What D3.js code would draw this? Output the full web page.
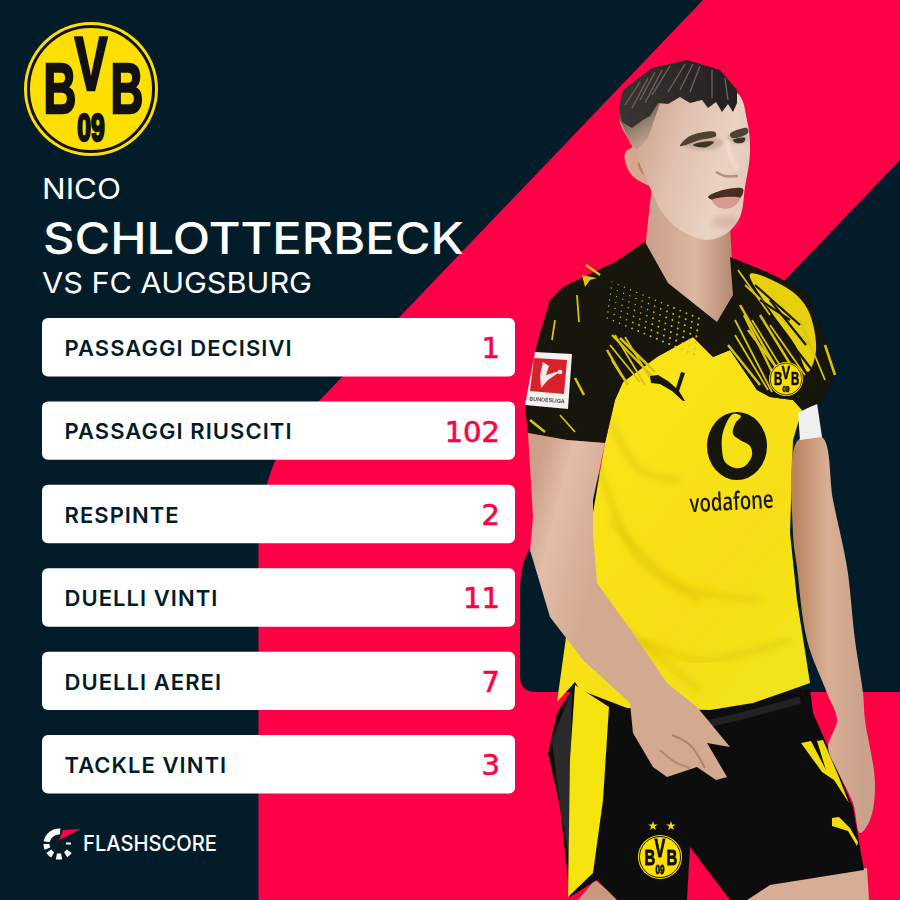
<!DOCTYPE html>
<html><head><meta charset="utf-8">
<script src="https://cdn.jsdelivr.net/npm/d3@7/dist/d3.min.js"></script>
<style>html,body{margin:0;padding:0;background:#031c29}svg{display:block}</style>
</head><body><div id="c"></div>
<script>
const categories=["PASSAGGI DECISIVI","PASSAGGI RIUSCITI","RESPINTE","DUELLI VINTI","DUELLI AEREI","TACKLE VINTI"];
const values=[1,102,2,11,7,3];
const titleLines=["NICO","SCHLOTTERBECK","VS FC AUGSBURG"];
const brand="FLASHSCORE";
const DARK="#031c29",RED="#ff0046",YEL="#f7e214",BLK="#14130f";
const svg=d3.select("#c").append("svg").attr("width",900).attr("height",900).attr("viewBox","0 0 900 900");
const defs=svg.append("defs");
defs.append("filter").attr("id","soft").append("feGaussianBlur").attr("stdDeviation",.6);
defs.append("filter").attr("id","blur2").append("feGaussianBlur").attr("stdDeviation",1.6);
defs.append("filter").attr("id","blur3").append("feGaussianBlur").attr("stdDeviation",3);
function lg(id,x1,y1,x2,y2,stops){const g=defs.append("linearGradient").attr("id",id).attr("gradientUnits","userSpaceOnUse").attr("x1",x1).attr("y1",y1).attr("x2",x2).attr("y2",y2);
 stops.forEach(s=>g.append("stop").attr("offset",s[0]).attr("stop-color",s[1]));}
lg("armL",530,500,610,520,[[0,"#cda08a"],[.35,"#e2bda8"],[1,"#d3a990"]]);
lg("armR",795,560,860,560,[[0,"#b98560"],[.5,"#d9ae94"],[1,"#cba38c"]]);
lg("face",640,130,750,160,[[0,"#cfa893"],[.35,"#e0c0ae"],[.8,"#ead2c4"],[1,"#e6cbbb"]]);
lg("neck",645,250,730,250,[[0,"#c99f88"],[.6,"#dcb7a2"],[1,"#b88c74"]]);
lg("fade",625,100,655,150,[[0,"#3e3733"],[.55,"#9c8475"],[1,"#d6b39e"]]);
lg("jer",570,450,820,650,[[0,"#f9e518"],[.6,"#f6df12"],[1,"#f1e41e"]]);
lg("hair",620,100,730,70,[[0,"#3a3431"],[1,"#23201f"]]);

const smooth=d3.line().curve(d3.curveCatmullRomClosed.alpha(.5));
const sharp=d3.line().curve(d3.curveLinearClosed);
const open=d3.line().curve(d3.curveCatmullRom.alpha(.5));

// background
svg.append("rect").attr("width",900).attr("height",900).attr("fill",DARK);
svg.append("path").attr("fill",RED).attr("d","M703,0 L900,0 L900,900 L258.5,900 L258.5,545 C259,510 266,470 290,432 L320,400 Z");
svg.append("path").attr("fill",DARK).attr("d","M900,160 L535,541 C525,553 520,570 520,590 L520,676 Q520,692 536,692 L900,692 Z");

// crest helper: one text element holding all four glyph groups
function crest(g,cx,cy,r){
 const n=g.append("g").attr("transform",`translate(${cx},${cy}) scale(${r/67})`);
 n.append("circle").attr("r",67).attr("fill","#fde000");
 n.append("circle").attr("r",62.5).attr("fill","none").attr("stroke","#111").attr("stroke-width",3);
 const sx=.65;
 const t=n.append("text").attr("transform",`scale(${sx},1)`).attr("text-anchor","middle")
   .attr("font-family","'Liberation Sans',sans-serif").attr("font-weight",700).attr("fill","#111").attr("stroke","#111").attr("stroke-width",2.5);
 [["B",-31,24,70],["V",0,1,76],["B",36,24,70],["09",0,52,38]].forEach(d=>{
  t.append("tspan").text(d[0]).attr("x",d[1]/sx).attr("y",d[2]).attr("font-size",d[3]);
 });
}
crest(svg.append("g"),91,89,67);

// headline
const tf="Inter,'DejaVu Sans',sans-serif";
const titleSpec=[[42,199,29,79,400],[43,254,44,421,500],[42,293,29,270,400]];
svg.append("g").selectAll("text").data(titleLines).join("text").text(d=>d)
 .attr("x",(d,i)=>titleSpec[i][0]).attr("y",(d,i)=>titleSpec[i][1]).attr("font-size",(d,i)=>titleSpec[i][2])
 .attr("textLength",(d,i)=>titleSpec[i][3]).attr("lengthAdjust","spacingAndGlyphs")
 .attr("font-weight",(d,i)=>titleSpec[i][4]).attr("font-family",tf).attr("fill","#fff");

// player
const P=svg.append("g").attr("filter","url(#soft)");
const area=(pts,fill,gen=smooth,par=P)=>par.append("path").attr("d",gen(pts)).attr("fill",fill);
const stroke=(pts,col,w,op=1)=>P.append("path").attr("d",open(pts)).attr("fill","none").attr("stroke",col).attr("stroke-width",w).attr("opacity",op);
// legs
area([[747,900],[777,880],[867,868],[869,900]],"#d7ad96",sharp);
area([[578,900],[595,880],[620,900]],"#c9987f",sharp);
// shorts
area([[575,685],[557,713],[548,753],[560,807],[570,897],[597,880],[617,900],[687,900],[690,847],[730,900],[747,900],[770,885],[864,870],[853,807],[828,747],[813,713],[810,688],[700,700]],"#111",sharp);
area([[552,740],[572,690],[570,800],[569,860],[558,790]],"#2a2a2a",sharp);
area([[575,685],[570,760],[568,897],[593,873],[603,800],[609,707]],"#f5e40f",sharp);
stroke([[640,730],[700,725],[800,700]],"#2c2c2c",7,.7);
// shorts details
area([[801,743],[811,741],[826,770],[817,741],[823,740],[838,775],[849,803],[834,780],[822,772]],"#f3dc0c",sharp);
area([[832,818],[839,817],[850,828],[858,842],[857,846],[848,831],[832,826]],"#f3dc0c",sharp);
d3.range(2).forEach(i=>{const s=d3.symbol().type(d3.symbolStar).size(28)();P.append("path").attr("d",s).attr("fill","#f3dc0c").attr("transform",`translate(${653+i*18},826)`);});
crest(P.append("g"),660,857,22);
// body
area([[615,400],[623,382],[657,357],[693,337],[713,357],[730,350],[757,390],[770,397],[793,400],[802,410],[793,440],[790,533],[797,600],[810,683],[753,703],[710,710],[627,708],[580,690],[575,682],[557,702],[567,630],[590,590],[590,530],[605,443]],"url(#jer)",sharp);
// jersey folds
[[[600,470],[640,560],[700,600]],[[610,520],[680,585],[760,600]],[[640,640],[700,660],[790,640]],[[600,610],[650,650],[700,690]],[[610,420],[640,470],[680,480]]].forEach(l=>P.append("path").attr("d",open(l)).attr("fill","none").attr("stroke","#cdb208").attr("stroke-width",5).attr("opacity",.4).attr("filter","url(#blur3)"));
// right arm
area([[798,440],[822,437],[833,500],[847,567],[855,640],[863,693],[865,720],[875,783],[870,820],[860,833],[853,803],[837,770],[828,747],[837,720],[827,693],[807,640],[797,567],[793,533]],"url(#armR)");
// armband
area([[798,413],[817,403],[822,437],[800,440]],"#f0f0ee",sharp);
// neck
area([[652,185],[646,240],[645,262],[668,292],[717,332],[736,300],[732,262],[730,225]],"url(#neck)",sharp);
// yoke with collar opening
area([[645,242],[615,262],[563,287],[550,300],[537,343],[525,407],[528,433],[567,440],[605,443],[615,400],[623,382],[657,357],[693,337],[713,357],[730,350],[757,390],[770,397],[793,400],[802,410],[820,403],[837,373],[823,333],[807,292],[767,272],[730,257],[733,295],[717,322],[668,283]],BLK,sharp);
// yellow streaks on right yoke
area([[750,274],[790,290],[808,310],[816,350],[808,372],[795,345],[770,310]],"#e7d10f");
const streaks=[[[738,270],[770,315]],[[740,305],[790,392]],[[735,320],[772,392]],[[728,345],[760,385]],[[745,285],[810,345]],[[748,330],[795,392]],[[800,320],[825,380]],[[825,345],[835,375]],
 [[735,335],[768,390]],[[744,315],[782,392]],[[752,320],[792,385]],[[760,315],[800,380]],[[770,325],[805,375]],
 [[612,335],[652,376]],[[610,345],[640,382]],[[612,360],[628,385]],[[615,335],[645,385]],[[620,338],[655,372]],[[625,337],[650,378]],[[607,350],[622,376]],
 [[577,295],[579,322]],[[575,378],[584,395]],[[555,320],[552,340]],[[586,265],[600,275]],[[560,415],[575,432]],[[530,420],[545,432]]];
P.append("g").selectAll("path").data(streaks).join("path").attr("d",d=>d3.line()(d)).attr("stroke","#d9c40f").attr("stroke-width",(d,i)=>i%2?2.5:1.8).attr("fill","none");
// dark cuts across the yellow shoulder
[[[755,285],[800,325]],[[770,300],[806,345]],[[785,335],[812,370]],[[760,300],[790,320]]].forEach(l=>P.append("path").attr("d",d3.line()(l)).attr("stroke",BLK).attr("stroke-width",2.2));
// shoulder puma
P.append("path").attr("d","M582,275 L597,278 L590,280 L585,287 Z").attr("fill","#e4c810");
// dot band on chest yoke
const dotRows=d3.range(7),dotCols=d3.range(15);
P.append("g").selectAll("circle").data(dotRows.flatMap(r=>dotCols.map(c=>[r,c]))).join("circle")
 .attr("cx",d=>612+d[1]*6.2-d[0]*.8).attr("cy",d=>282+d[0]*6+d[1]*2.6).attr("r",d=>.6+(d[0]+d[1])/36).attr("fill","#d8c20c");
// bundesliga patch
area([[535,352],[572,354],[568,409],[525,405]],"#f4f1ee",sharp);
area([[534,358],[567,360],[564,394],[530,391]],"#d6202a",sharp);
P.append("path").attr("d","M543,362 L549,366 L546,375 L556,372 L561,371 L548,380 L541,388 L540,375 Z").attr("fill","#f3e9e6");
P.append("circle").attr("cx",560).attr("cy",372).attr("r",2.3).attr("fill","#f3e9e6");
P.append("text").text("BUNDESLIGA").attr("x",547).attr("y",402).attr("text-anchor","middle").attr("font-size",5.5).attr("font-family","Inter").attr("font-weight",700).attr("fill","#555").attr("transform","rotate(4 547 402)");
// puma
area([[650,376],[658,375],[668,381],[676,388],[681,372],[685,373],[679,391],[685,401],[683,401],[672,391],[660,384],[651,383]],"#15130f",sharp);
// jersey crest
crest(P.append("g"),786,379,17);
// vodafone
P.append("ellipse").attr("cx",737).attr("cy",446).attr("rx",30).attr("ry",34).attr("fill","#17150f");
area([[733,414],[741,416],[735,424],[733,434],[740,440],[750,446],[752,455],[745,466],[735,468],[725,462],[722,450],[723,432]],"#f6e012");
P.append("text").text("vodafone").attr("x",732).attr("y",510).attr("text-anchor","middle").attr("font-size",25).attr("font-family","'Open Sans',sans-serif").attr("font-weight",600)
 .attr("textLength",84).attr("lengthAdjust","spacingAndGlyphs").attr("fill","#1a170c").attr("transform","rotate(-3 732 510)");
// left arm and hand
area([[528,433],[567,440],[605,443],[593,500],[593,533],[597,583],[633,633],[667,683],[697,707],[730,747],[707,743],[727,777],[716,780],[697,767],[667,777],[653,767],[633,733],[630,703],[583,660],[550,617],[530,550],[533,517]],"url(#armL)",sharp);
stroke([[672,735],[690,745],[705,768]],"#a97a62",2,.8);
stroke([[660,750],[675,762],[690,768]],"#a97a62",2,.7);
// head
area([[625,153],[637,147],[648,167],[658,187],[643,183],[630,173]],"#d9a58c");
area([[650,160],[655,175],[647,178],[638,163]],"#b67f68");
area([[620,118],[632,146],[652,192],[662,212],[680,230],[707,240],[727,233],[740,217],[745,187],[750,153],[747,120],[737,93],[680,90],[640,100]],"url(#face)",smooth);
area([[619,107],[620,120],[630,143],[637,150],[648,138],[660,103],[640,100]],"url(#fade)",sharp);
// hair
area([[619,107],[623,90],[652,68],[687,60],[720,70],[737,90],[737,103],[733,112],[728,104],[722,112],[716,102],[708,108],[702,100],[690,103],[680,97],[668,104],[658,103],[650,116],[643,120],[632,128],[622,122]],"url(#hair)",sharp);
P.append("g").selectAll("path").data([[[640,82],[625,105]],[[655,72],[640,100]],[[670,66],[652,95]],[[685,64],[668,92]],[[700,66],[690,92]],[[712,70],[712,98]],[[725,78],[728,100]],[[648,78],[632,108]],[[693,64],[680,90]],[[662,70],[645,103]]])
 .join("path").attr("d",d=>d3.line()(d)).attr("stroke","#6d6560").attr("stroke-width",1.3).attr("fill","none");
// face details
P.append("ellipse").attr("cx",703).attr("cy",143).attr("rx",20).attr("ry",7).attr("fill","#8f705c").attr("opacity",.3).attr("filter","url(#blur2)");
P.append("ellipse").attr("cx",738).attr("cy",138).attr("rx",11).attr("ry",6).attr("fill","#8f705c").attr("opacity",.3).attr("filter","url(#blur2)");
area([[680,146],[690,136],[715,132],[716,136],[700,140]],"#4f4233");
area([[730,134],[747,128],[748,133],[732,138]],"#4f4233");
area([[693,145],[702,142],[714,142],[707,147],[698,147]],"#3c3029");
area([[733,140],[745,138],[744,142],[736,143]],"#3c3029");
stroke([[727,140],[732,160],[738,170]],"#f2dfd3",5,.55);
stroke([[716,172],[725,176],[738,176]],"#a8806b",2.5,.8);
area([[708,197],[723,190],[743,189],[740,198],[713,200]],"#4e2a27");
area([[712,200],[740,198],[733,207],[720,208]],"#d79a8d");
P.append("ellipse").attr("cx",725).attr("cy",222).attr("rx",14).attr("ry",6).attr("fill","#b98e78").attr("opacity",.35).attr("filter","url(#blur3)");

// stat rows
const y=d3.scaleBand().domain(categories).range([318,793.5]).paddingInner(0.3).paddingOuter(0);
const row=svg.append("g").selectAll("g").data(categories).join("g").attr("transform",d=>`translate(0,${y(d)})`);
row.append("rect").attr("x",42).attr("width",473).attr("height",y.bandwidth()).attr("rx",6).attr("fill","#fff");
row.append("text").text(d=>d).attr("x",64.5).attr("y",y.bandwidth()/2+8.8).attr("font-family","Inter,sans-serif").attr("font-weight",600)
 .attr("font-size",22).attr("letter-spacing",1.05).attr("fill",DARK);
row.append("text").text((d,i)=>values[i]).attr("x",500).attr("y",y.bandwidth()/2+11).attr("text-anchor","end")
 .attr("font-family","'DejaVu Sans',sans-serif").attr("font-size",29).attr("fill",RED).attr("stroke",RED).attr("stroke-width",.6);

// brand
const B=svg.append("g").attr("transform","translate(59,844)");
const arc=d3.arc().innerRadius(9.5).outerRadius(15.5);
const rad=Math.PI/180;
B.selectAll("path.s").data([[-80,5],[-112,-90],[-150,-125],[-192,-168],[125,148]]).join("path")
 .attr("d",d=>arc({startAngle:d[0]*rad,endAngle:d[1]*rad})).attr("fill","#fff");
B.append("path").attr("d","M0,-4 L22,-15 L4,-14 Z").attr("fill",RED);
B.append("rect").attr("x",7).attr("y",-1.5).attr("width",5).attr("height",2).attr("fill","#fff");
svg.append("text").text(brand).attr("x",83).attr("y",851).attr("font-family",tf).attr("font-size",21).attr("font-weight",500).attr("textLength",134).attr("lengthAdjust","spacingAndGlyphs").attr("fill","#fff");
</script></body></html>
